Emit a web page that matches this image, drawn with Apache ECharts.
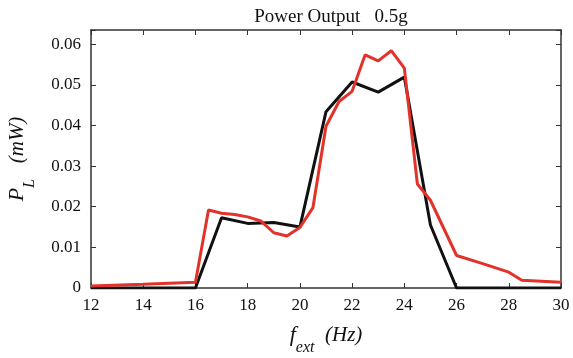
<!DOCTYPE html>
<html>
<head>
<meta charset="utf-8">
<script src="https://cdn.jsdelivr.net/npm/echarts@6/dist/echarts.min.js"></script>
<style>html,body{margin:0;padding:0;background:#fff;}#c{width:573px;height:358px;}</style>
</head>
<body>
<div id="c"></div>
<script>
const titleText = 'Power Output   0.5g';
const xTicks = [12, 14, 16, 18, 20, 22, 24, 26, 28, 30];
const yTicks = [0, 0.01, 0.02, 0.03, 0.04, 0.05, 0.06];
const blackX = [12, 16, 17, 18, 19, 20, 21, 22, 23, 24, 25, 26, 30];
const blackY = [0, 0, 0.0173, 0.0159, 0.0161, 0.0150, 0.0434, 0.0507, 0.0482, 0.0519, 0.0155, 0, 0];
const redX = [12, 14, 16, 16.5, 17, 17.5, 18, 18.5, 19, 19.5, 20, 20.5, 21, 21.5, 22, 22.5, 23, 23.5, 24, 24.5, 25, 26, 27, 28, 28.5, 30];
const redY = [0.0005, 0.0009, 0.0014, 0.0192, 0.0184, 0.0181, 0.0175, 0.0165, 0.0136, 0.0128, 0.0149, 0.0198, 0.0398, 0.0459, 0.0484, 0.0574, 0.0559, 0.0584, 0.0541, 0.0256, 0.0216, 0.0080, 0.0060, 0.0039, 0.0019, 0.0014];

const font = '"Liberation Serif", "Times New Roman", serif';
const axisColor = '#333';
const zip = (xs, ys) => xs.map((x, i) => [x, ys[i]]);

const chart = echarts.init(document.getElementById('c'), null, {renderer: 'canvas'});
const commonX = {
  type: 'value', min: 12, max: 30, interval: 2,
  axisLine: {show: true, onZero: false, lineStyle: {color: axisColor, width: 1.5}},
  axisTick: {show: true, inside: true, length: 5, lineStyle: {color: axisColor, width: 1}},
  splitLine: {show: false}
};
const commonY = {
  type: 'value', min: 0, max: 0.0635, interval: 0.01,
  axisLine: {show: true, onZero: false, lineStyle: {color: axisColor, width: 1.5}},
  axisTick: {show: true, inside: true, length: 5, lineStyle: {color: axisColor, width: 1}},
  splitLine: {show: false}
};
const richName = {
  i: {fontFamily: font, fontStyle: 'italic', fontSize: 22, color: '#111', lineHeight: 28, verticalAlign: 'middle'},
  s: {fontFamily: font, fontStyle: 'italic', fontSize: 16, color: '#111', lineHeight: 28, verticalAlign: 'bottom', padding: [0, 0, -7, 0]},
  n: {fontFamily: font, fontStyle: 'italic', fontSize: 21, color: '#111', lineHeight: 28, verticalAlign: 'middle'}
};
chart.setOption({
  animation: false,
  backgroundColor: '#fff',
  title: {
    text: titleText, left: 326, top: 3, textAlign: 'center',
    textStyle: {fontFamily: font, fontWeight: 'normal', fontSize: 19, color: '#111'}
  },
  grid: {left: 91, right: 12, top: 30, bottom: 70, containLabel: false, outerBoundsMode: 'none'},
  xAxis: [
    Object.assign({}, commonX, {
      position: 'bottom',
      axisLabel: {show: true, margin: 9, fontFamily: font, fontSize: 17, color: '#111',
        formatter: v => xTicks.includes(v) ? String(v) : ''},
      name: '{i|f}{s|ext}{n|  (Hz)}', nameLocation: 'middle', nameGap: 33,
      nameTextStyle: {rich: richName}
    }),
    Object.assign({}, commonX, {position: 'top', axisLabel: {show: false}})
  ],
  yAxis: [
    Object.assign({}, commonY, {
      position: 'left',
      axisLabel: {show: true, margin: 10, fontFamily: font, fontSize: 17, color: '#111',
        formatter: v => { const m = yTicks.find(t => Math.abs(t - v) < 1e-9); return m === undefined ? '' : (m === 0 ? '0' : m.toFixed(2)); }},
      name: '{i|P}{s|L}{n|   (mW)}', nameLocation: 'middle', nameGap: 60, nameRotate: 90,
      nameTextStyle: {rich: richName}
    }),
    Object.assign({}, commonY, {position: 'right', axisLabel: {show: false}})
  ],
  series: [
    {type: 'line', data: zip(blackX, blackY), showSymbol: false, symbol: 'none',
      lineStyle: {color: '#111', width: 3}, z: 2},
    {type: 'line', data: zip(redX, redY), showSymbol: false, symbol: 'none',
      lineStyle: {color: '#e2322a', width: 3}, z: 3}
  ]
});
</script>
</body>
</html>
